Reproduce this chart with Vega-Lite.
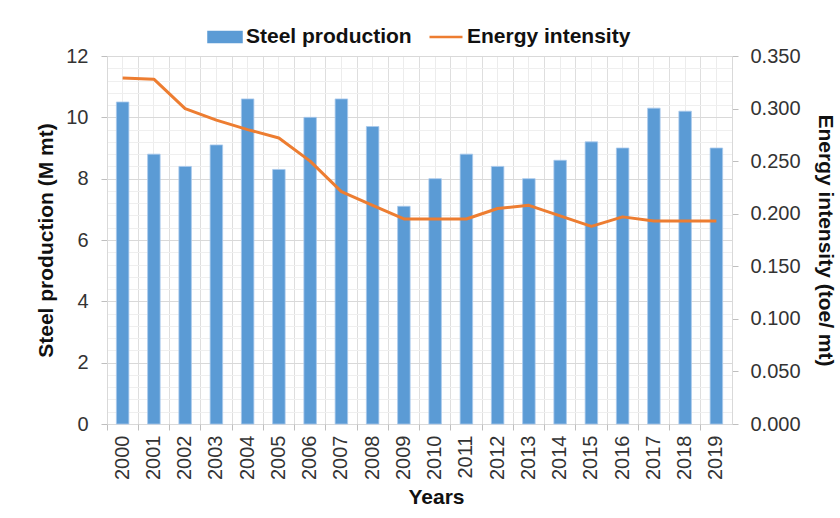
{
  "$schema": "https://vega.github.io/schema/vega-lite/v6.json",
  "width": 625,
  "height": 368,
  "autosize": {"type": "none"},
  "padding": {"left": 107, "top": 56, "right": 108, "bottom": 94},
  "background": "white",
  "config": {
    "font": "Liberation Sans",
    "view": {"stroke": null},
    "axis": {
      "labelFont": "Liberation Sans",
      "labelFontSize": 20,
      "labelColor": "#333333",
      "titleFont": "Liberation Sans",
      "titleFontSize": 21,
      "titleFontWeight": "bold",
      "titleColor": "#111111",
      "domainColor": "#d9d9d9",
      "tickColor": "#bfbfbf",
      "tickSize": 6
    }
  },
  "data": {
    "values": [
      {"year": "2000", "steel": 10.5, "energy": 0.329},
      {"year": "2001", "steel": 8.8, "energy": 0.328},
      {"year": "2002", "steel": 8.4, "energy": 0.300},
      {"year": "2003", "steel": 9.1, "energy": 0.289},
      {"year": "2004", "steel": 10.6, "energy": 0.280},
      {"year": "2005", "steel": 8.3, "energy": 0.272},
      {"year": "2006", "steel": 10.0, "energy": 0.250},
      {"year": "2007", "steel": 10.6, "energy": 0.221},
      {"year": "2008", "steel": 9.7, "energy": 0.208},
      {"year": "2009", "steel": 7.1, "energy": 0.195},
      {"year": "2010", "steel": 8.0, "energy": 0.195},
      {"year": "2011", "steel": 8.8, "energy": 0.195},
      {"year": "2012", "steel": 8.4, "energy": 0.205},
      {"year": "2013", "steel": 8.0, "energy": 0.208},
      {"year": "2014", "steel": 8.6, "energy": 0.198},
      {"year": "2015", "steel": 9.2, "energy": 0.188},
      {"year": "2016", "steel": 9.0, "energy": 0.197},
      {"year": "2017", "steel": 10.3, "energy": 0.193},
      {"year": "2018", "steel": 10.2, "energy": 0.193},
      {"year": "2019", "steel": 9.0, "energy": 0.193}
    ]
  },
  "layer": [
    {
      "mark": {"type": "bar", "width": {"band": 0.4}, "stroke": "#a9c9ec", "strokeWidth": 0.8},
      "encoding": {
        "x": {
          "field": "year", "type": "ordinal",
          "scale": {"paddingInner": 0, "paddingOuter": 0},
          "axis": {
            "orient": "bottom", "title": "Years", "labelAngle": -90, "labelBaseline": "middle",
            "labelPadding": 11, "ticks": false, "grid": true, "gridColor": "#ececec",
            "domain": true, "titlePadding": 7, "titleX": 329
          }
        },
        "y": {
          "field": "steel", "type": "quantitative",
          "scale": {"domain": [0, 12], "nice": false},
          "axis": {
            "orient": "left", "title": "Steel production (M mt)", "labelOverlap": false, "tickCount": 100,
            "values": [0, 0.4, 0.8, 1.2, 1.6, 2, 2.4, 2.8, 3.2, 3.6, 4, 4.4, 4.8, 5.2, 5.6, 6, 6.4, 6.8, 7.2, 7.6, 8, 8.4, 8.8, 9.2, 9.6, 10, 10.4, 10.8, 11.2, 11.6, 12],
            "labelExpr": "datum.value % 2 === 0 ? format(datum.value, 'd') : ''",
            "gridColor": {"condition": {"test": "datum.value % 2 === 0", "value": "#d9d9d9"}, "value": "#efefef"},
            "tickOpacity": {"condition": {"test": "datum.value % 2 === 0", "value": 1}, "value": 0},
            "labelPadding": 13, "titlePadding": 9
          }
        },
        "color": {
          "datum": "Steel production", "type": "nominal",
          "scale": {"domain": ["Steel production", "Energy intensity"], "range": ["#5b9bd5", "#ed7d31"]},
          "legend": {
            "orient": "none", "legendX": 100, "legendY": -37, "direction": "horizontal",
            "title": null, "padding": 0, "labelLimit": 400,
            "labelFont": "Liberation Sans", "labelFontSize": 21, "labelFontWeight": "bold", "labelColor": "#111111",
            "symbolSize": 1089, "columnPadding": 12, "labelOffset": 3,
            "encoding": {
              "symbols": {
                "shape": {"value": {"expr": "datum.value === 'Steel production' ? 'M-1,-0.3H1V0.3H-1Z' : 'stroke'"}},
                "fill": {"value": {"expr": "datum.value === 'Steel production' ? '#5b9bd5' : 'transparent'"}},
                "stroke": {"value": {"expr": "datum.value === 'Steel production' ? 'transparent' : '#ed7d31'"}},
                "strokeWidth": {"value": 2.5},
                "opacity": {"value": 1}
              }
            }
          }
        }
      }
    },
    {
      "mark": {"type": "line", "strokeWidth": 3, "strokeJoin": "round"},
      "encoding": {
        "x": {
          "field": "year", "type": "ordinal",
          "axis": {
            "orient": "bottom", "bandPosition": 0, "labels": false, "title": null,
            "domain": false, "grid": true, "gridColor": "#dedede", "ticks": true, "tickSize": 6
          }
        },
        "y": {
          "field": "energy", "type": "quantitative",
          "scale": {"domain": [0, 0.35], "nice": false},
          "axis": {
            "orient": "right", "title": "Energy intensity (toe/ mt)",
            "values": [0, 0.05, 0.1, 0.15, 0.2, 0.25, 0.3, 0.35],
            "format": ".3f", "grid": false, "labelPadding": 12, "titlePadding": 14
          }
        },
        "color": {"datum": "Energy intensity", "type": "nominal"}
      }
    }
  ],
  "resolve": {"scale": {"y": "independent"}, "axis": {"x": "independent"}}
}
